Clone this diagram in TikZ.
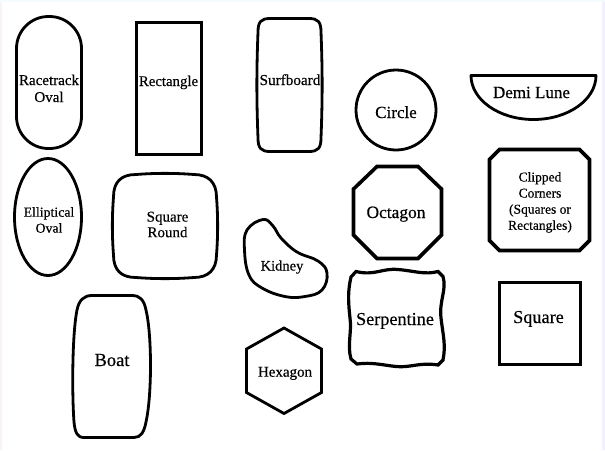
\documentclass[tikz,border=0pt]{standalone}
\usepackage{fontspec}
\setmainfont{Liberation Serif}[FakeBold=0.35]
\newcommand{\fs}[2]{\fontsize{#1}{#2}\selectfont}
\tikzset{
  outline/.style={line width=2.8pt, line join=round, draw=black},
  heavyline/.style={line width=3.6pt, line join=miter, draw=black},
  lbl/.style={inner sep=0pt, outer sep=0pt, align=center, text=black},
}
\begin{document}
\begin{tikzpicture}[x=1pt,y=-1pt]
\useasboundingbox (0,0) rectangle (605,450);
\fill[white] (0,0) rectangle (605,450);
\fill[blue!6!white] (601.5,0) rectangle (605,450);
\fill[violet!5!white] (0,0) rectangle (2,450);
\fill[cyan!4!white] (0,0) rectangle (605,2);

% Racetrack Oval
\draw[outline, rounded corners=32] (16.5,16.5) rectangle (81.5,148.5);
\node[lbl, font=\fs{15}{17}] (racetrack) at (49,88.4) {Racetrack\\Oval};

% Rectangle
\draw[heavyline] (136.5,22.5) rectangle (201.5,154.5);
\node[lbl, font=\fs{14.8}{17}, anchor=base] (rectangle) at (168.5,86) {Rectangle};

% Surfboard
\draw[outline] (270,18.5) -- (309,18.5) .. controls (318,18.5) and (321,22) .. (321,32)
  .. controls (322.5,70) and (322.5,100) .. (321,138)
  .. controls (321,148) and (318,151.5) .. (309,151.5) -- (270,151.5)
  .. controls (261,151.5) and (258,148) .. (258,138)
  .. controls (256.5,100) and (256.5,70) .. (258,32)
  .. controls (258,22) and (261,18.5) .. (270,18.5) -- cycle;
\node[lbl, font=\fs{15.2}{17}, anchor=base] (surfboard) at (290,85) {Surfboard};

% Circle
\draw[outline] (396,110) circle[radius=40];
\node[lbl, font=\fs{17}{19}, anchor=base] (circle) at (396,118) {Circle};

% Demi Lune
\draw[outline] (471,75.5) -- (596,75.5) arc[start angle=0, end angle=180, x radius=62.5, y radius=44] -- cycle;
\node[lbl, font=\fs{17}{19}, anchor=base] (demilune) at (531.5,98) {Demi Lune};

% Octagon
\draw[heavyline] (377,166.5) -- (418,166.5) -- (441.5,189) -- (441.5,235) -- (418,258.5)
  -- (377,258.5) -- (353.5,235) -- (353.5,189) -- cycle;
\node[lbl, font=\fs{17.4}{19}, anchor=base] (octagon) at (396,218) {Octagon};

% Clipped Corners
\draw[heavyline] (499.5,149.5) -- (579.5,149.5) -- (589.5,159.5) -- (589.5,240.5) -- (579.5,250.5)
  -- (499.5,250.5) -- (489.5,240.5) -- (489.5,159.5) -- cycle;
\node[lbl, font=\fs{13.5}{16.1}] (clipped) at (540,202.4) {Clipped\\Corners\\(Squares or\\Rectangles)};

% Elliptical Oval
\draw[outline] (48,217) ellipse[x radius=33.5, y radius=58.5];
\node[lbl, font=\fs{13.8}{16}] (elliptical) at (49,220) {Elliptical\\Oval};

% Square Round
\draw[outline] (136,174.5) .. controls (155,173) and (175,173) .. (194,174.5)
  .. controls (208,174.5) and (216.5,182) .. (216.5,197)
  .. controls (218,216) and (218,236) .. (216.5,255)
  .. controls (216.5,270) and (208,277.5) .. (194,277.5)
  .. controls (175,279) and (155,279) .. (136,277.5)
  .. controls (121,277.5) and (113.5,270) .. (113.5,255)
  .. controls (112,236) and (112,216) .. (113.5,197)
  .. controls (113.5,182) and (121,174.5) .. (136,174.5) -- cycle;
\node[lbl, font=\fs{15}{15.6}] (squareround) at (167.5,224.5) {Square\\Round};

% Kidney
\draw[outline] plot[smooth cycle, tension=0.7] coordinates {
  (263,219.5) (273,226) (281,238) (297,252) (318,261) (327,273) (322,290)
  (305,296.5) (285,296.5) (262,288) (249,275) (244.5,250) (247,230)};
\node[lbl, font=\fs{14.5}{17}, anchor=base] (kidney) at (282,270.5) {Kidney};

% Boat
\draw[outline] (92,295.5) -- (132,295.5) .. controls (140,295.5) and (144,300) .. (146,310)
  .. controls (152,335) and (152,395) .. (146,422)
  .. controls (144,432) and (141,437.5) .. (134,437.5) -- (84,437.5)
  .. controls (77,437.5) and (75,432) .. (74,422)
  .. controls (72,395) and (72,335) .. (77,310)
  .. controls (79,300) and (84,295.5) .. (92,295.5) -- cycle;
\node[lbl, font=\fs{18.5}{20}, anchor=base] (boat) at (112,366) {Boat};

% Hexagon
\draw[outline, line join=miter] (284,328) -- (321.5,349) -- (321.5,392.5) -- (284,413.5)
  -- (246.5,392.5) -- (246.5,349) -- cycle;
\node[lbl, font=\fs{15}{17}, anchor=base] (hexagon) at (285,376.7) {Hexagon};

% Serpentine
\draw[heavyline, line width=3.2pt] (356,271.5) .. controls (375,276) and (382,268) .. (398,269.5)
  .. controls (415,271) and (425,275) .. (438,271.5) -- (443,276.5)
  .. controls (447,290) and (439,300) .. (441,318)
  .. controls (443,335) and (446,345) .. (443,360) -- (438,365)
  .. controls (420,362) and (410,368) .. (396,366.5)
  .. controls (382,365) and (372,362) .. (357,364) -- (351,359)
  .. controls (347,345) and (352,332) .. (350,318)
  .. controls (348,300) and (348,290) .. (351,277) -- cycle;
\node[lbl, font=\fs{18.2}{20}, anchor=base] (serpentine) at (395,325) {Serpentine};

% Square
\draw[heavyline] (499.5,282.5) rectangle (580.5,364.5);
\node[lbl, font=\fs{18.2}{20}, anchor=base] (square) at (538.5,323) {Square};
\end{tikzpicture}
\end{document}
